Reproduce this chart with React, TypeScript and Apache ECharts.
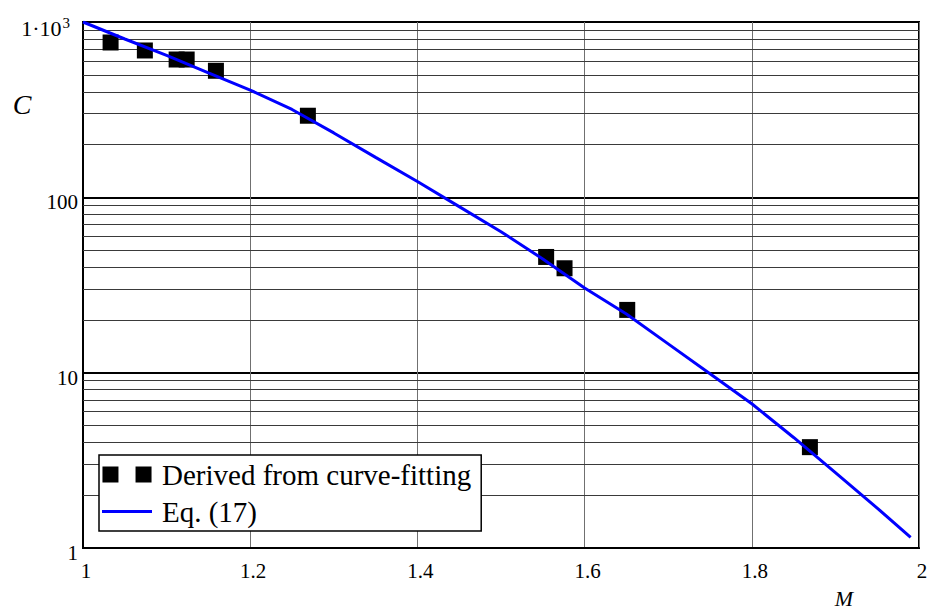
import React, { useEffect, useRef } from "react";
import * as echarts from "echarts";

// Derived from curve-fitting (scatter squares)
const pointsM = [1.033, 1.074, 1.112, 1.124, 1.159, 1.269, 1.554, 1.576, 1.651, 1.8695];
const pointsC = [764, 688, 611, 611, 527, 292, 45.7, 39.4, 22.8, 3.76];

// Eq. (17) curve
const curveM = [1.0, 1.05, 1.1, 1.15, 1.2, 1.25, 1.3, 1.35, 1.4, 1.45, 1.5, 1.55, 1.6, 1.65, 1.7, 1.75, 1.8, 1.85, 1.9, 1.95, 1.99];
const curveC = [1000, 800, 645, 512, 409, 317, 233, 169, 123, 88.5, 63.7, 44.5, 30.4, 21.6, 14.6, 9.85, 6.65, 4.27, 2.69, 1.69, 1.15];

// axis ticks
const xTicks = [1, 1.2, 1.4, 1.6, 1.8, 2];
const yDecades = [1, 10, 100, 1000];
const minorGridValues = [
  2, 3, 4, 5, 6, 7, 8, 9,
  20, 30, 40, 50, 60, 70, 80, 90,
  200, 300, 400, 500, 600, 700, 800, 900,
];

const seriesNames = ["Derived from curve-fitting", "Eq. (17)"];

const FONT = "Liberation Serif";

export default function App() {
  const ref = useRef<HTMLDivElement>(null);
  useEffect(() => {
    if (!ref.current) return;
    const chart = echarts.init(ref.current, undefined, { renderer: "svg" });
    const option = {
      animation: false,
      backgroundColor: "#ffffff",
      grid: {
        left: 83,
        right: 12,
        top: 22,
        bottom: 67,
        show: true,
        borderColor: "#000",
        borderWidth: 2,
        backgroundColor: "transparent",
      },
      xAxis: {
        type: "value",
        min: xTicks[0],
        max: xTicks[xTicks.length - 1],
        interval: 0.2,
        axisLine: { show: true, lineStyle: { color: "#000", width: 2 } },
        axisTick: { show: false },
        axisLabel: {
          color: "#000",
          fontFamily: FONT,
          fontSize: 21,
          margin: 12,
          padding: [0, 0, 0, 6],
        },
        splitLine: { show: true, lineStyle: { color: "#707070", width: 1 } },
      },
      yAxis: {
        type: "log",
        logBase: 10,
        min: yDecades[0],
        max: yDecades[yDecades.length - 1],
        axisLine: { show: true, lineStyle: { color: "#000", width: 2 } },
        axisTick: { show: false },
        axisLabel: {
          color: "#000",
          fontFamily: FONT,
          fontSize: 21,
          margin: 5,
          padding: [10, 0, 0, 0],
          formatter: (v: number) => {
            if (Math.round(v) === 1000) return "{a|1·10}{s|3}";
            return String(Math.round(v));
          },
          rich: {
            a: { fontFamily: FONT, fontSize: 22, color: "#000", verticalAlign: "bottom", lineHeight: 24 },
            s: { fontFamily: FONT, fontSize: 15, color: "#000", verticalAlign: "top", lineHeight: 15, padding: [0, 8, 16, 1] },
          },
        },
        splitLine: { show: true, lineStyle: { color: "#000", width: 2 } },
      },
      legend: {
        orient: "vertical",
        left: 99,
        top: 455,
        backgroundColor: "#fff",
        borderColor: "#000",
        borderWidth: 1.5,
        borderRadius: 0,
        padding: [3, 10, 3, 3],
        itemGap: 4,
        itemWidth: 50,
        itemHeight: 16,
        selectedMode: false,
        textStyle: { fontFamily: FONT, fontSize: 29, color: "#000", lineHeight: 33, padding: [0, 0, 0, 5] },
        data: [
          {
            name: seriesNames[0],
            icon: "path://M0,0h15v15h-15zM31,0h15v15h-15z",
            itemStyle: { color: "#000", borderWidth: 0, opacity: 1 },
          },
          {
            name: seriesNames[1],
            icon: "path://M0,0h50v2.8h-50z",
            itemStyle: { color: "#0000ff", borderWidth: 0, opacity: 1 },
          },
        ],
        z: 10,
      },
      series: [
        {
          name: seriesNames[0],
          type: "scatter",
          symbol: "rect",
          symbolSize: 16,
          itemStyle: { color: "#000", opacity: 1 },
          z: 3,
          data: pointsM.map((m, i) => [m, pointsC[i]]),
          markLine: {
            silent: true,
            z: 1,
            symbol: ["none", "none"],
            label: { show: false },
            lineStyle: { color: "#3a3a3a", width: 1, type: "solid" },
            emphasis: { disabled: true },
            data: minorGridValues.map((v) => ({ yAxis: v })),
          },
        },
        {
          name: seriesNames[1],
          type: "line",
          showSymbol: false,
          symbol: "none",
          color: "#0000ff",
          lineStyle: { color: "#0000ff", width: 3 },
          z: 4,
          data: curveM.map((m, i) => [m, curveC[i]]),
        },
      ],
      graphic: [
        {
          type: "text",
          style: {
            text: "C",
            x: 22,
            y: 104,
            align: "center",
            verticalAlign: "middle",
            font: "italic 28px Liberation Serif",
            fill: "#000",
          },
        },
        {
          type: "text",
          style: {
            text: "M",
            x: 844,
            y: 598,
            align: "center",
            verticalAlign: "middle",
            font: "italic 22px Liberation Serif",
            fill: "#000",
          },
        },
      ],
    };
    chart.setOption(option as any);
    return () => chart.dispose();
  }, []);
  return (
    <div
      ref={ref}
      style={{ position: "fixed", left: 0, top: 0, width: 931, height: 615 }}
    />
  );
}
